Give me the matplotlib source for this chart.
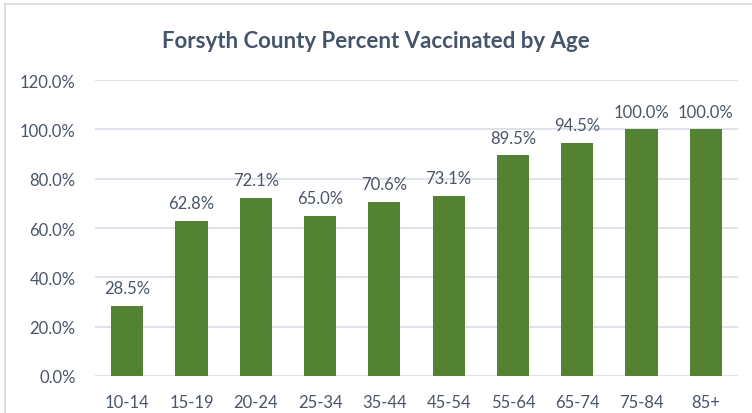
import matplotlib.pyplot as plt
from matplotlib.ticker import FuncFormatter

# Age groups and vaccination percentages
age_groups = ["10-14", "15-19", "20-24", "25-34", "35-44", "45-54",
              "55-64", "65-74", "75-84", "85+"]
pct_vaccinated = [28.5, 62.8, 72.1, 65.0, 70.6, 73.1, 89.5, 94.5, 100.0, 100.0]

BAR_COLOR = "#548235"
TEXT_COLOR = "#4A5568"
GRID_COLOR = "#D9DDE4"

plt.rcParams['font.family'] = ['Lato', 'DejaVu Sans']

fig = plt.figure(figsize=(7.52, 4.14), dpi=100)
ax = fig.add_axes([95 / 752, 1 - 377 / 414, (738 - 95) / 752, (377 - 81) / 414])

x = range(len(age_groups))
bars = ax.bar(x, pct_vaccinated, width=0.5, color=BAR_COLOR, zorder=3)

# value labels above each bar
for b, v in zip(bars, pct_vaccinated):
    ax.annotate(f"{v:.1f}%", (b.get_x() + b.get_width() / 2, v),
                xytext=(0, 7), textcoords="offset points",
                ha="center", va="bottom", fontsize=12, color=TEXT_COLOR)

ax.set_ylim(0, 120)
ax.set_yticks(range(0, 121, 20))
ax.yaxis.set_major_formatter(FuncFormatter(lambda v, p: f"{v:.1f}%"))
ax.set_xlim(-0.5, len(age_groups) - 0.5)
ax.set_xticks(list(x))
ax.set_xticklabels(age_groups)

ax.grid(axis="y", color=GRID_COLOR, linewidth=1.2, zorder=0)
for s in ax.spines.values():
    s.set_visible(False)
ax.tick_params(axis="both", length=0, labelsize=12, colors=TEXT_COLOR)
ax.tick_params(axis="x", pad=13)
ax.tick_params(axis="y", pad=14)

fig.text(0.5, 1 - 42 / 414, "Forsyth County Percent Vaccinated by Age",
         ha="center", va="center", fontsize=16, fontweight="bold",
         color="#44546A")

# chart frame (cut off at right and bottom like the screenshot)
fig.add_artist(plt.Line2D([5 / 752, 5 / 752], [0, 1 - 5 / 414],
                          color="#D9D9D9", linewidth=1.2))
fig.add_artist(plt.Line2D([5 / 752, 1], [1 - 5 / 414, 1 - 5 / 414],
                          color="#D9D9D9", linewidth=1.2))

fig.savefig("out.png", dpi=100)
